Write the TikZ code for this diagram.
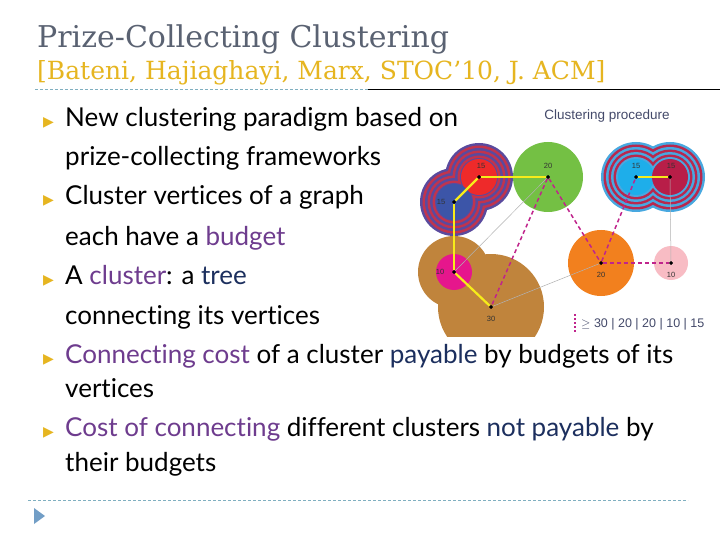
\documentclass[tikz,border=0pt]{standalone}
\usepackage{fontspec}
\setmainfont{DejaVu Serif}
\newfontfamily\bodyfont[RawFeature=-liga]{Lato}
\newfontfamily\symfont{DejaVu Sans}
\newfontfamily\smallsans{Liberation Sans}
\definecolor{titlegray}{HTML}{5A6272}
\definecolor{gold}{HTML}{E6B520}
\definecolor{hlpurple}{HTML}{6E3C8E}
\definecolor{hlnavy}{HTML}{1C2F5E}
\definecolor{dashblue}{HTML}{7FAFC0}
\definecolor{ringA}{HTML}{5A4A9E}
\definecolor{ringB}{HTML}{C0344E}
\definecolor{ringC}{HTML}{48A8E0}
\definecolor{ringD}{HTML}{B8284E}
\definecolor{cred}{HTML}{EE2A2A}
\definecolor{cblue}{HTML}{3C55A8}
\definecolor{cgreen}{HTML}{74C044}
\definecolor{ccyan}{HTML}{1EAEEA}
\definecolor{ccrimson}{HTML}{B81E48}
\definecolor{cmag}{HTML}{E6168C}
\definecolor{cbrown}{HTML}{C0843C}
\definecolor{corange}{HTML}{F2801E}
\definecolor{cpink}{HTML}{F8BCC4}
\definecolor{dashmag}{HTML}{C0248C}
\definecolor{edgeyellow}{HTML}{F6EC1A}
\definecolor{legendtext}{HTML}{444A6A}
\tikzset{
  bullet/.style={anchor=base west, text=gold, font=\symfont\fontsize{14}{14}\selectfont, inner sep=0},
  btext/.style={anchor=base west, font=\bodyfont\fontsize{26}{26}\selectfont, inner sep=0},
  vtx/.style={circle, fill=black, inner sep=0, minimum size=3.5pt},
  vlab/.style={font=\smallsans\fontsize{7.5}{8}\selectfont, text=black!80},
  treeedge/.style={edgeyellow, line width=2.2pt},
  dashedge/.style={dashmag, line width=1.5pt, dashed, dash pattern=on 4pt off 3pt},
  thinedge/.style={gray!60, line width=0.5pt}
}
\begin{document}
\begin{tikzpicture}[x=1pt,y=-1pt]
\useasboundingbox (0,0) rectangle (720,540);
\fill[white] (0,0) rectangle (720,540);
\node[anchor=base west, inner sep=0, text=titlegray, font=\fontsize{30}{30}\selectfont] (title) at (37,48) {Prize-Collecting Clustering};
\node[anchor=base west, inner sep=0, text=gold, font=\fontsize{25}{25}\selectfont] (sub) at (37,80) {[Bateni, Hajiaghayi, Marx, STOC’10, J. ACM]};
\draw[dashblue, dashed, dash pattern=on 3pt off 2pt] (35,89) coordinate (d1) -- (368,89) coordinate (d2);
\draw[black, line width=0.6pt] (d2) -- (720,89) coordinate (d3);
\foreach \yy in {127,205,284,363,436}{\node[bullet] at (43,\yy) {▶};}
\node[btext] (t1) at (65,127) {New clustering paradigm based on};
\node[btext] (t2) at (65,166) {prize-collecting frameworks};
\node[btext] (t3) at (65,205) {Cluster vertices of a graph};
\node[btext] (t4) at (65,245) {each have a \textcolor{hlpurple}{budget}};
\node[btext] (t5) at (65,284) {A \textcolor{hlpurple}{cluster}: a \textcolor{hlnavy}{tree}};
\node[btext] (t6) at (65,324) {connecting its vertices};
\node[btext] (t7) at (65,363) {\textcolor{hlpurple}{Connecting cost} of a cluster \textcolor{hlnavy}{payable} by budgets of its};
\node[btext] (t8) at (65,397) {vertices};
\node[btext] (t9) at (65,436) {\textcolor{hlpurple}{Cost of connecting} different clusters \textcolor{hlnavy}{not payable} by};
\node[btext] (t10) at (65,471) {their budgets};
\draw[dashblue, dashed, dash pattern=on 3pt off 2pt] (28,500) coordinate (b1) -- (688,500) coordinate (b2);
\fill[dashblue!90!blue] (34,508) -- (45,516) -- (34,524) -- cycle;
\begin{scope}
\clip (410,100) rectangle (720,336);
\fill[cbrown] (454,272) circle (36);
\fill[cbrown] (491,307) circle (53);
\foreach \r/\c in {34/ringA,31.5/ringB,29/ringA,26.5/ringB,24/ringA,21.5/ringB,19/ringA}{
  \fill[\c] (479,177) circle (\r);
  \fill[\c] (454,202) circle (\r);
}
\fill[cred] (479,177) circle (18);
\fill[cblue] (454,202) circle (18);
\foreach \r/\c in {35/ringC,32.5/ringD,30/ringC,27.5/ringD,25/ringC,22.5/ringD,20/ringC}{
  \fill[\c] (636,177) circle (\r);
  \fill[\c] (670,177) circle (\r);
}
\fill[ccyan] (636,177) circle (18);
\fill[ccrimson] (670,177) circle (18);
\fill[cgreen] (548,177) circle (35);
\fill[cmag] (454,272) circle (18);
\fill[corange] (601,263) circle (33);
\fill[cpink] (671,263) circle (17);
\end{scope}
\node[font=\smallsans\fontsize{13.5}{14}\selectfont, text=legendtext] (proc) at (607,116) {Clustering procedure};
\node[vtx] (vr) at (479,177) {};
\node[vtx] (vb) at (454,202) {};
\node[vtx] (vg) at (548,177) {};
\node[vtx] (vc) at (636,177) {};
\node[vtx] (vk) at (670,177) {};
\node[vtx] (vm) at (454,272) {};
\node[vtx] (vw) at (491,307) {};
\node[vtx] (vo) at (601,263) {};
\node[vtx] (vp) at (671,263) {};
\draw[thinedge] (vm) -- (vg);
\draw[thinedge] (vw) -- (vo);
\draw[thinedge] (vk) -- (vp);
\draw[dashedge] (vg) -- (vw);
\draw[dashedge] (vg) -- (vo);
\draw[dashedge] (vo) -- (vc);
\draw[dashedge] (vo) -- (vp);
\draw[treeedge] (vr) -- (vg);
\draw[treeedge] (vr) -- (vb);
\draw[treeedge] (vb) -- (vm);
\draw[treeedge] (vm) -- (vw);
\draw[treeedge] (vc) -- (vk);
\foreach \v in {vr,vb,vg,vc,vk,vm,vw,vo,vp}{\fill[black] (\v) circle (1.8);}
\node[vlab] (lr) at (481,166) {15};
\node[vlab] (lb) at (441,202) {15};
\node[vlab] (lg) at (548,166) {20};
\node[vlab] (lc) at (636,166) {15};
\node[vlab] (lk) at (671,166) {15};
\node[vlab] (lm) at (440,272) {10};
\node[vlab] (lw) at (491,319) {30};
\node[vlab] (lo) at (601,275) {20};
\node[vlab] (lp) at (671,275) {10};
\draw[dashedge, dash pattern=on 2pt off 2pt] (575,314) coordinate (lg1) -- (575,332) coordinate (lg2);
\node[anchor=west, inner sep=0, font=\smallsans\fontsize{12.5}{13}\selectfont, text=legendtext] (leg) at (581,324) {$\geq$ 30 \textbar\ 20 \textbar\ 20 \textbar\ 10 \textbar\ 15};
\end{tikzpicture}
\end{document}
